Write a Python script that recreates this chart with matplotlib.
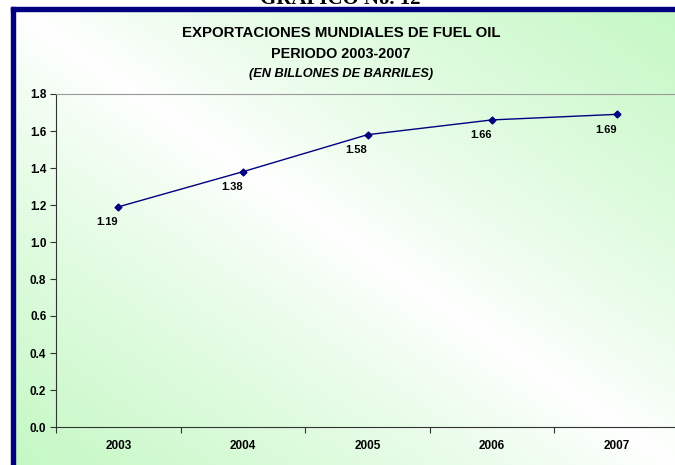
import numpy as np
import matplotlib.pyplot as plt
from matplotlib.colors import LinearSegmentedColormap
from matplotlib.patches import Rectangle

# datos
years = ['2003', '2004', '2005', '2006', '2007']
exports = [1.19, 1.38, 1.58, 1.66, 1.69]
yticks = [0.0, 0.2, 0.4, 0.6, 0.8, 1.0, 1.2, 1.4, 1.6, 1.8]

plt.rcParams['font.family'] = ['Liberation Sans', 'DejaVu Sans']

fig = plt.figure(figsize=(6.75, 4.65), dpi=100)
W, H = 675, 465

# fondo degradado (verde en esquinas opuestas, blanco en la diagonal)
bg = fig.add_axes([0, 0, 1, 1], zorder=-10)
gx, gy = np.meshgrid(np.linspace(0, 1, 400), np.linspace(0, 1, 300))
grad = np.abs(gx - gy) ** 0.85
cmap = LinearSegmentedColormap.from_list('g', ['#ffffff', '#c4f8c4'])
bg.imshow(grad, cmap=cmap, aspect='auto', extent=[0, 1, 0, 1], origin='upper')
bg.set_xlim(0, 1)
bg.set_ylim(0, 1)
bg.axis('off')

# blanco fuera del marco
fig.add_artist(Rectangle((0, 1 - 7 / H), 1, 7 / H, transform=fig.transFigure,
                         color='white', zorder=-5))
fig.add_artist(Rectangle((0, 0), 11 / W, 1, transform=fig.transFigure,
                         color='white', zorder=-5))
# marco azul
fig.add_artist(Rectangle((11 / W, 1 - 11 / H), 1, 4 / H, transform=fig.transFigure,
                         color='#000080', zorder=5))
fig.add_artist(Rectangle((11 / W, 0), 4 / W, 1 - 7 / H, transform=fig.transFigure,
                         color='#000080', zorder=5))

# titulo cortado arriba
fig.text(340 / W, 1 - 4 / H, 'GRAFICO No. 12', ha='center', va='baseline',
         fontsize=15, fontweight='bold', family=['Liberation Serif'])

fig.text(341 / W, 1 - 37 / H, 'EXPORTACIONES MUNDIALES DE FUEL OIL',
         ha='center', va='baseline', fontsize=10.8, fontweight='bold')
fig.text(341 / W, 1 - 58 / H, 'PERIODO 2003-2007',
         ha='center', va='baseline', fontsize=10.4, fontweight='bold')
fig.text(341 / W, 1 - 77 / H, '(EN BILLONES DE BARRILES)',
         ha='center', va='baseline', fontsize=9.2, fontweight='bold', style='italic')

ax = fig.add_axes([56 / W, 38 / H, 623 / W, 333 / H])
ax.patch.set_alpha(0)

x = np.arange(len(years))
ax.plot(x, exports, color='#000080', linewidth=1, marker='D', markersize=3.5)

for xi, v in zip(x, exports):
    ax.annotate(f'{v:.2f}', (xi, v), xytext=(-8, -11), textcoords='offset points',
                ha='center', va='center', fontsize=8, fontweight='bold')

ax.set_xlim(-0.5, len(years) - 0.5)
ax.set_ylim(0, 1.8)
ax.set_yticks(yticks)
ax.set_yticklabels([f'{t:.1f}' for t in yticks])

ax.set_xticks(np.arange(-0.5, len(years), 1.0))
ax.set_xticklabels([])
ax.set_xticks(x, minor=True)
ax.set_xticklabels(years, minor=True)
ax.tick_params(axis='x', which='minor', length=0, pad=9)
ax.tick_params(axis='x', which='major', length=4, color='#333333')
ax.tick_params(axis='y', length=4, color='#333333', pad=3)
for lab in ax.get_xticklabels(minor=True) + ax.get_yticklabels():
    lab.set_fontweight('bold')
    lab.set_fontsize(8.5)

ax.spines['left'].set_color('#333333')
ax.spines['bottom'].set_color('#333333')
ax.spines['top'].set_color('#999999')
ax.spines['right'].set_visible(False)

plt.savefig('out.png', dpi=100)
